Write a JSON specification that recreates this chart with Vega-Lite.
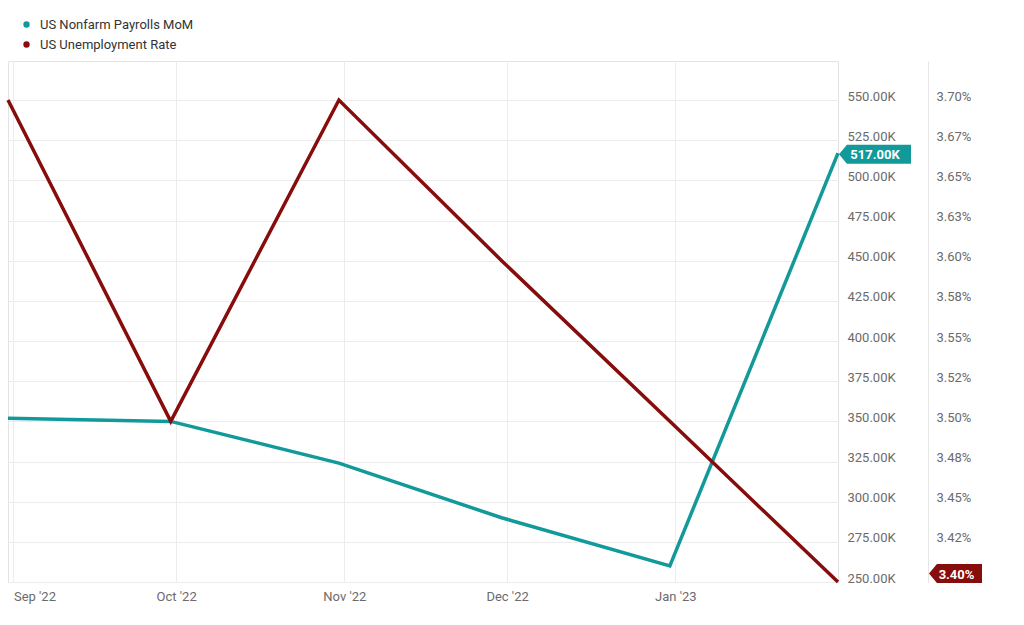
{
  "$schema": "https://vega.github.io/schema/vega-lite/v6.json",
  "width": 830,
  "height": 521,
  "autosize": {"type": "none"},
  "padding": {"left": 8, "top": 61, "right": 186, "bottom": 43},
  "background": "white",
  "config": {
    "font": "Roboto",
    "view": {"stroke": "#e3e3e3", "strokeWidth": 1},
    "axis": {"labelFont": "Roboto", "labelFontSize": 13, "labelColor": "#6b6b6b", "title": null}
  },
  "data": {
    "values": [
      {"date": "2022-08-31T00:00:00", "series": "US Nonfarm Payrolls MoM", "value": 352000},
      {"date": "2022-09-30T00:00:00", "series": "US Nonfarm Payrolls MoM", "value": 350000},
      {"date": "2022-10-31T00:00:00", "series": "US Nonfarm Payrolls MoM", "value": 324000},
      {"date": "2022-11-30T00:00:00", "series": "US Nonfarm Payrolls MoM", "value": 290000},
      {"date": "2022-12-31T00:00:00", "series": "US Nonfarm Payrolls MoM", "value": 260000},
      {"date": "2023-01-31T00:00:00", "series": "US Nonfarm Payrolls MoM", "value": 517000},
      {"date": "2022-08-31T00:00:00", "series": "US Unemployment Rate", "value": 3.7},
      {"date": "2022-09-30T00:00:00", "series": "US Unemployment Rate", "value": 3.5},
      {"date": "2022-10-31T00:00:00", "series": "US Unemployment Rate", "value": 3.7},
      {"date": "2022-11-30T00:00:00", "series": "US Unemployment Rate", "value": 3.6},
      {"date": "2022-12-31T00:00:00", "series": "US Unemployment Rate", "value": 3.5},
      {"date": "2023-01-31T00:00:00", "series": "US Unemployment Rate", "value": 3.4}
    ]
  },
  "encoding": {
    "x": {
      "field": "date",
      "type": "temporal",
      "scale": {
        "domain": [
          {"year": 2022, "month": 8, "date": 31},
          {"year": 2023, "month": 1, "date": 31}
        ],
        "nice": false
      },
      "axis": {
        "format": "%b '%y",
        "tickCount": {"interval": "month", "step": 1},
        "domain": false,
        "ticks": false,
        "grid": true,
        "gridColor": "#ececec",
        "labelPadding": 8,
        "labelFlush": 10
      }
    }
  },
  "layer": [
    {
      "transform": [{"filter": "datum.series === 'US Nonfarm Payrolls MoM'"}],
      "encoding": {
        "y": {
          "field": "value",
          "type": "quantitative",
          "scale": {"domain": [250000, 574400], "nice": false, "zero": false},
          "axis": {
            "orient": "right",
            "values": [250000, 275000, 300000, 325000, 350000, 375000, 400000, 425000, 450000, 475000, 500000, 525000, 550000],
            "labelExpr": "format(datum.value / 1000, '.2f') + 'K'",
            "domain": false,
            "ticks": false,
            "grid": true,
            "gridColor": "#ececec",
            "labelPadding": 9,
            "labelBaseline": "alphabetic",
            "labelAlign": "left"
          }
        }
      },
      "layer": [
        {
          "mark": {"type": "line", "strokeWidth": 3.5},
          "encoding": {
            "color": {
              "field": "series",
              "type": "nominal",
              "scale": {"domain": ["US Nonfarm Payrolls MoM", "US Unemployment Rate"], "range": ["#12999a", "#870c0c"]},
              "legend": {
                "title": null,
                "orient": "none",
                "legendX": 12,
                "legendY": -43,
                "symbolType": "circle",
                "symbolSize": 10,
                "symbolStrokeWidth": 3.2,
                "labelFontSize": 13,
                "labelFont": "Roboto",
                "labelColor": "#333333",
                "labelOffset": 7,
                "rowPadding": 3,
                "padding": 0
              }
            }
          }
        },
        {
          "transform": [{"filter": {"field": "date", "equal": {"year": 2023, "month": 1, "date": 31}}}],
          "mark": {
            "type": "point",
            "shape": "M0,0 L0.22,-0.264 L2,-0.264 L2,0.264 L0.22,0.264 Z",
            "filled": true,
            "opacity": 1,
            "color": "#12999a",
            "strokeWidth": 0,
            "size": 5184,
            "xOffset": 1,
            "yOffset": 1
          }
        },
        {
          "transform": [{"filter": {"field": "date", "equal": {"year": 2023, "month": 1, "date": 31}}}],
          "mark": {
            "type": "text",
            "text": {"expr": "format(datum.value / 1000, '.2f') + 'K'"},
            "color": "white",
            "fontWeight": "bold",
            "fontSize": 13,
            "font": "Roboto",
            "align": "center",
            "baseline": "middle",
            "dx": 37,
            "dy": 2
          }
        }
      ]
    },
    {
      "transform": [{"filter": "datum.series === 'US Unemployment Rate'"}],
      "encoding": {
        "y": {
          "field": "value",
          "type": "quantitative",
          "scale": {"domain": [3.4, 3.7243], "nice": false, "zero": false},
          "axis": {
            "orient": "right",
            "offset": 90,
            "values": [3.4249, 3.45, 3.4751, 3.5, 3.5249, 3.55, 3.5751, 3.6, 3.625, 3.65, 3.6749, 3.7],
            "labelExpr": "format(datum.value, '.2f') + '%'",
            "domain": true,
            "domainColor": "#e6e6e6",
            "ticks": false,
            "grid": false,
            "labelPadding": 8,
            "labelBaseline": "alphabetic",
            "labelAlign": "left"
          }
        }
      },
      "layer": [
        {
          "mark": {"type": "line", "strokeWidth": 3.5},
          "encoding": {
            "color": {"field": "series", "type": "nominal"}
          }
        },
        {
          "transform": [{"filter": {"field": "date", "equal": {"year": 2023, "month": 1, "date": 31}}}],
          "mark": {
            "type": "point",
            "shape": "M0,0 L0.3,-0.358 L2,-0.358 L2,0.358 L0.3,0.358 Z",
            "filled": true,
            "opacity": 1,
            "color": "#870c0c",
            "strokeWidth": 0,
            "size": 2809,
            "xOffset": 91,
            "yOffset": -8.5
          }
        },
        {
          "transform": [{"filter": {"field": "date", "equal": {"year": 2023, "month": 1, "date": 31}}}],
          "mark": {
            "type": "text",
            "text": {"expr": "format(datum.value, '.2f') + '%'"},
            "color": "white",
            "fontWeight": "bold",
            "fontSize": 13,
            "font": "Roboto",
            "align": "center",
            "baseline": "middle",
            "dx": 118.5,
            "dy": -7.5
          }
        }
      ]
    }
  ],
  "resolve": {"scale": {"y": "independent"}}
}
